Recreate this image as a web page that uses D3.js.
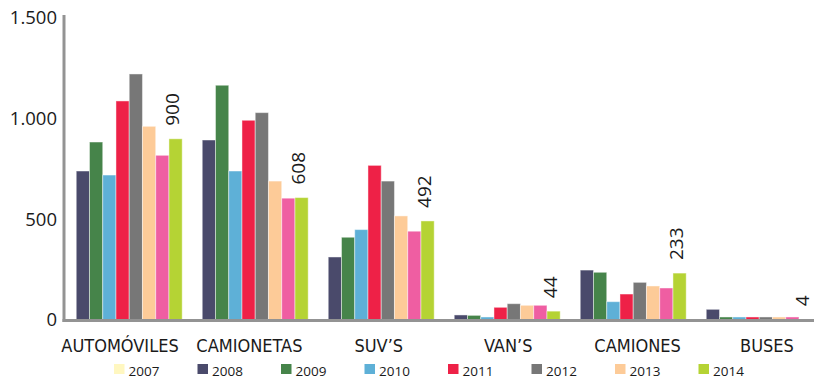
<!DOCTYPE html>
<html>
<head>
<meta charset="utf-8">
<script src="https://cdn.jsdelivr.net/npm/d3@7"></script>
<style>
  html, body { margin: 0; padding: 0; background: #fff; }
  svg { display: block; }
</style>
</head>
<body>
<svg id="chart" width="814" height="380"></svg>
<script>
// Vehicle categories
const categories = ["AUTOMÓVILES", "CAMIONETAS", "SUV’S", "VAN’S", "CAMIONES", "BUSES"];

// Units per year and category
const v2007 = [0, 0, 0, 0, 0, 0];
const v2008 = [740, 894, 313, 25, 248, 53];
const v2009 = [884, 1166, 411, 23, 237, 15];
const v2010 = [720, 740, 449, 15, 91, 15];
const v2011 = [1088, 992, 768, 63, 129, 15];
const v2012 = [1222, 1030, 690, 81, 187, 15];
const v2013 = [962, 690, 517, 73, 169, 15];
const vExtra = [818, 605, 441, 73, 159, 15];
const v2014 = [900, 608, 492, 44, 233, 4];

// Series order inside each group, with legend names
const seriesNames = ["2007", "2008", "2009", "2010", "2011", "2012", "2013", "", "2014"];
const seriesValues = [v2007, v2008, v2009, v2010, v2011, v2012, v2013, vExtra, v2014];
const seriesColors = ["#FFF7C0", "#4A4A6B", "#46844A", "#5EB0D7", "#EE2147", "#777777", "#FDCB98", "#EF5EA2", "#B5D334"];

// Years shown in the legend
const legendYears = ["2007", "2008", "2009", "2010", "2011", "2012", "2013", "2014"];

// Value labels written above the last series
const labelSeries = "2014";

// Y axis ticks
const yTicks = [0, 500, 1000, 1500];
const yTickLabels = ["0", "500", "1.000", "1.500"];

const svg = d3.select("#chart");
const yBase = 320;

const y = d3.scaleLinear().domain([0, 1500]).range([yBase, 18]);

const x0 = d3.scaleBand()
  .domain(categories)
  .range([63, 812.2])
  .paddingInner(0.054)
  .paddingOuter(0);

const seriesIdx = d3.range(seriesNames.length);
const x1 = d3.scaleBand()
  .domain(seriesIdx)
  .range([0, x0.bandwidth()])
  .padding(0);

const color = d3.scaleOrdinal().domain(seriesIdx).range(seriesColors);

// Bars
const groups = svg.append("g").selectAll("g")
  .data(categories)
  .join("g")
  .attr("transform", d => `translate(${x0(d)},0)`);

groups.selectAll("rect")
  .data((cat, ci) => seriesIdx.map(si => ({ si, value: seriesValues[si][ci] })))
  .join("rect")
  .attr("x", d => x1(d.si))
  .attr("width", x1.bandwidth())
  .attr("y", d => y(d.value))
  .attr("height", d => yBase - y(d.value))
  .attr("fill", d => color(d.si))
  .attr("stroke", "#ffffff")
  .attr("stroke-opacity", d => d.value > 0 ? 0.45 : 0)
  .attr("stroke-width", 1);

// Value labels for the last series, rotated
const li = seriesNames.indexOf(labelSeries);
groups.append("text")
  .each(function (cat, ci) {
    const v = seriesValues[li][ci];
    const cx = x1(li) + x1.bandwidth() / 2 + 3.5;
    const cy = y(v) - 13;
    d3.select(this)
      .attr("transform", `translate(${cx},${cy}) rotate(-90)`)
      .text(d3.format(",")(v).replace(/,/g, "."));
  })
  .attr("text-anchor", "start")
  .attr("font-family", "'Open Sans', sans-serif")
  .attr("font-size", 19)
  .attr("fill", "#1a1a1a");

// Axes
const yAxis = d3.axisLeft(y)
  .tickValues(yTicks)
  .tickFormat((d, i) => yTickLabels[i])
  .tickSize(0)
  .tickPadding(7);

const gy = svg.append("g")
  .attr("transform", "translate(64,0)")
  .call(yAxis);
gy.select(".domain").remove();
gy.selectAll("text")
  .attr("font-family", "'Open Sans', sans-serif")
  .attr("font-size", 18.5)
  .attr("fill", "#1a1a1a");

svg.append("line")
  .attr("x1", 64).attr("x2", 64)
  .attr("y1", 15).attr("y2", yBase + 2)
  .attr("stroke", "#939393").attr("stroke-width", 3);

svg.append("line")
  .attr("x1", 62.5).attr("x2", 814)
  .attr("y1", yBase + 0.5).attr("y2", yBase + 0.5)
  .attr("stroke", "#939393").attr("stroke-width", 3);

// Category labels
const xLabel = d3.scalePoint().domain(categories).range([120, 767]);
svg.append("g").selectAll("text")
  .data(categories)
  .join("text")
  .attr("x", d => xLabel(d))
  .attr("y", 351.5)
  .attr("text-anchor", "middle")
  .attr("font-family", "'DejaVu Sans', sans-serif")
  .attr("font-stretch", "condensed")
  .attr("font-size", 18)
  .attr("fill", "#1a1a1a")
  .text(d => d);

// Legend
const legend = svg.append("g").selectAll("g")
  .data(legendYears)
  .join("g")
  .attr("transform", (d, i) => `translate(${114 + i * 83.5},364)`);

legend.append("rect")
  .attr("width", 10.5).attr("height", 10)
  .attr("fill", d => color(seriesNames.indexOf(d)));

legend.append("text")
  .attr("x", 14.5).attr("y", 11.5)
  .attr("font-family", "'Open Sans', sans-serif")
  .attr("font-size", 13.5)
  .attr("fill", "#1a1a1a")
  .text(d => d);
</script>
</body>
</html>
